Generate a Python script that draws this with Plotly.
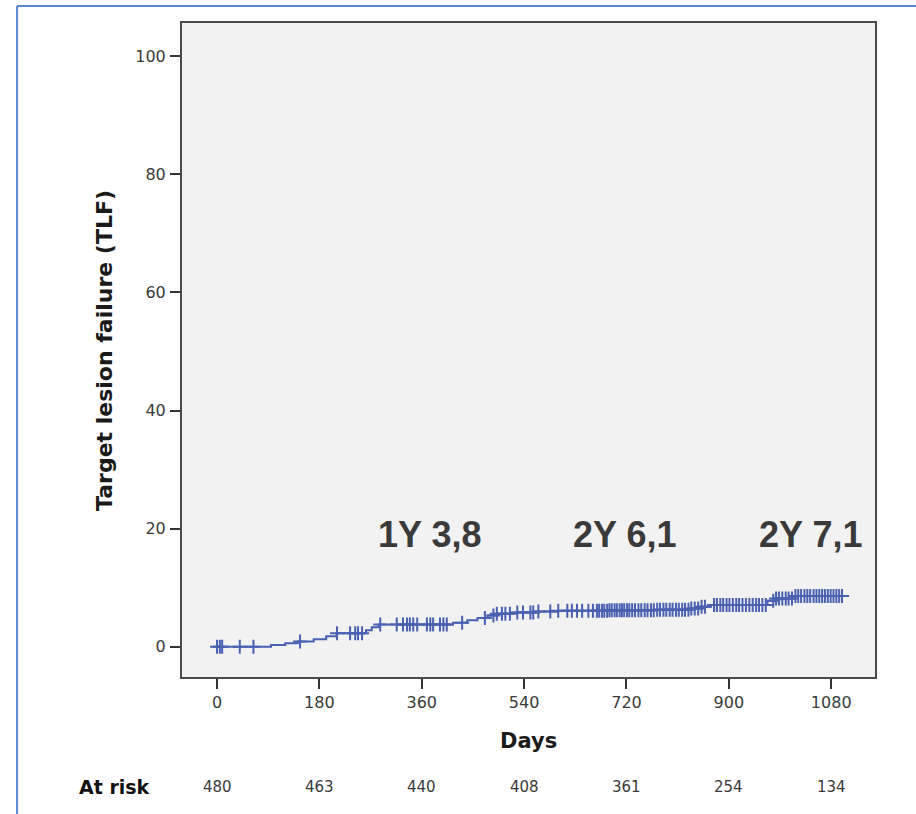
import numpy as np
import plotly.graph_objects as go

# ---- data ----
curve_days = [0, 95, 120, 142, 170, 192, 210, 262, 272, 284, 415, 440, 458, 476, 492,
              520, 560, 600, 690, 770, 830, 852, 868, 968, 982, 1015, 1101]
curve_vals = [0, 0.3, 0.6, 0.9, 1.3, 1.8, 2.3, 2.8, 3.3, 3.8, 4.1, 4.5, 4.9, 5.3, 5.6,
              5.8, 6.0, 6.1, 6.2, 6.3, 6.5, 6.8, 7.1, 7.8, 8.2, 8.6, 8.6]

censor_days = [0, 5, 9, 40, 64, 146, 211, 234, 243, 248, 255, 287, 316, 327, 334, 339, 345,
               352, 369, 375, 380, 392, 398, 404, 431, 471, 486, 492, 501, 507, 515, 528, 538,
               551, 556, 565, 586, 600, 616, 624, 633, 642, 653, 661,
               668, 672, 677, 681, 686, 690, 694, 699, 703, 708, 712, 716, 721, 725, 730, 735,
               741, 746, 752, 757, 763, 768, 774, 779, 785, 790, 796, 801, 807, 812, 818, 823,
               829, 834, 840, 846, 852, 858, 874, 879, 885, 890, 896, 901, 907, 913, 918, 924,
               930, 936, 942, 948, 953, 959, 965, 978, 983, 988, 994, 1000, 1005, 1011, 1017,
               1022, 1027, 1033, 1038, 1043, 1049, 1054, 1059, 1064, 1069, 1074, 1079, 1084,
               1089, 1094, 1099]

x_ticks = [0, 180, 360, 540, 720, 900, 1080]
y_ticks = [0, 20, 40, 60, 80, 100]
at_risk = [480, 463, 440, 408, 361, 254, 134]

labels_text = ["1Y 3,8", "2Y 6,1", "2Y 7,1"]
labels_day = [374, 716, 1043]
labels_val = [19.1, 19.1, 19.1]

# KM step lookup for the censor marks
cd = np.array(curve_days)
cv = np.array(curve_vals)
idx = np.searchsorted(cd, np.array(censor_days), side="right") - 1
censor_vals = cv[np.clip(idx, 0, len(cv) - 1)]

blue = "#4a60b0"

fig = go.Figure()
fig.add_trace(go.Scatter(x=curve_days, y=curve_vals, mode="lines",
                         line=dict(color=blue, width=2, shape="hv"),
                         showlegend=False, hoverinfo="skip"))
fig.add_trace(go.Scatter(x=censor_days, y=censor_vals, mode="markers",
                         marker=dict(symbol="cross-thin", size=10,
                                     line=dict(color=blue, width=2)),
                         showlegend=False, hoverinfo="skip"))

tickfont = dict(family="DejaVu Sans", size=16, color="#3a3a3a")

fig.update_xaxes(range=[-61.6, 1157], tickvals=x_ticks, ticks="outside", ticklen=10,
                 tickwidth=1.5, tickcolor="#333", showgrid=False, zeroline=False,
                 showline=True, mirror=True, linecolor="#4a4a4a", linewidth=2,
                 tickfont=tickfont)
fig.update_yaxes(range=[-5.1, 105.6], tickvals=y_ticks, ticks="outside", ticklen=10,
                 tickwidth=1.5, tickcolor="#333", showgrid=False, zeroline=False,
                 showline=True, mirror=True, linecolor="#4a4a4a", linewidth=2,
                 tickfont=tickfont, ticklabelstandoff=1)

annotations = []
for t, d, v in zip(labels_text, labels_day, labels_val):
    annotations.append(dict(x=d, y=v, xref="x", yref="y", text="<b>" + t + "</b>",
                            showarrow=False,
                            font=dict(family="Liberation Sans", size=36, color="#3a3a3a"),
                            xanchor="center", yanchor="middle"))
annotations.append(dict(x=-0.1126, y=0.5, xref="paper", yref="paper",
                        text="<b>Target lesion failure (TLF)</b>", textangle=-90,
                        showarrow=False, xanchor="center", yanchor="middle",
                        font=dict(family="DejaVu Sans", size=22, color="#1a1a1a")))
annotations.append(dict(x=0.5, y=-0.098, xref="paper", yref="paper", text="<b>Days</b>",
                        showarrow=False, xanchor="center", yanchor="middle",
                        font=dict(family="DejaVu Sans", size=21, color="#1a1a1a")))
annotations.append(dict(x=-0.0967, y=-0.168, xref="paper", yref="paper", text="<b>At risk</b>",
                        showarrow=False, xanchor="center", yanchor="middle",
                        font=dict(family="DejaVu Sans", size=19, color="#111")))
for d, n in zip(x_ticks, at_risk):
    annotations.append(dict(x=d, y=-0.168, xref="x", yref="paper", text=str(n),
                            showarrow=False, xanchor="center", yanchor="middle",
                            font=dict(family="DejaVu Sans", size=15, color="#3a3a3a")))

shapes = [
    dict(type="line", xref="paper", yref="paper", x0=-0.238, x1=1.1, y0=1.026, y1=1.026,
         line=dict(color="#5a87cc", width=2)),
    dict(type="line", xref="paper", yref="paper", x0=-0.238, x1=-0.238, y0=1.026, y1=-0.3,
         line=dict(color="#5a87cc", width=2)),
]

fig.update_layout(width=916, height=814, margin=dict(l=182, r=41, t=23, b=137),
                  paper_bgcolor="white", plot_bgcolor="#f2f2f2",
                  annotations=annotations, shapes=shapes, showlegend=False)

fig.write_html("out.html", config={"displayModeBar": False},
               post_script="document.body.style.margin='0';document.body.style.overflow='hidden';")
